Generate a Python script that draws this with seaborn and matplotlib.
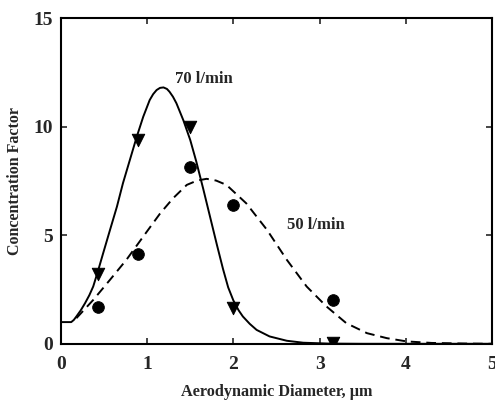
import matplotlib
matplotlib.use("Agg")
import matplotlib.pyplot as plt
import seaborn as sns

# measured points
tri_x = [0.43, 0.89, 1.50, 2.00, 3.15]
tri_y = [3.2, 9.4, 10.0, 1.65, 0.05]
circ_x = [0.43, 0.89, 1.50, 2.00, 3.15]
circ_y = [1.7, 4.15, 8.15, 6.4, 2.0]

# fitted curve, 70 l/min
c70_x = [0.0, 0.12, 0.15, 0.18, 0.23, 0.28, 0.33, 0.375, 0.43, 0.49, 0.57,
         0.65, 0.72, 0.80, 0.88, 0.955, 1.03, 1.07, 1.11, 1.15, 1.19, 1.23,
         1.26, 1.30, 1.34, 1.42, 1.50, 1.57, 1.65, 1.73, 1.81, 1.88, 1.94,
         2.00, 2.06, 2.11, 2.19, 2.27, 2.42, 2.62, 2.81, 3.1, 3.5, 4.0, 5.0]
c70_y = [1.0, 1.0, 1.1, 1.26, 1.54, 1.87, 2.24, 2.64, 3.35, 4.17, 5.25,
         6.32, 7.4, 8.47, 9.54, 10.46, 11.23, 11.5, 11.69, 11.79, 11.81, 11.74,
         11.61, 11.38, 11.08, 10.3, 9.39, 8.4, 7.15, 5.85, 4.55, 3.45, 2.6,
         2.0, 1.55, 1.26, 0.92, 0.64, 0.34, 0.14, 0.05, 0.01, 0.0, 0.0, 0.0]

# fitted curve, 50 l/min
c50_x = [0.18, 0.375, 0.57, 0.76, 0.955, 1.15, 1.30, 1.46, 1.58, 1.69, 1.80,
         1.92, 2.15, 2.39, 2.62, 2.85, 3.08, 3.31, 3.55, 3.78, 4.01, 4.3,
         4.7, 5.0]
c50_y = [1.18, 2.02, 2.95, 3.87, 4.94, 6.0, 6.7, 7.32, 7.52, 7.6, 7.52,
         7.32, 6.47, 5.25, 3.87, 2.64, 1.72, 0.95, 0.49, 0.26, 0.11, 0.04,
         0.01, 0.0]

sns.set_style("ticks")
plt.rcParams['font.family'] = ['Liberation Serif', 'DejaVu Serif']
plt.rcParams['font.weight'] = 'bold'

fig = plt.figure(figsize=(4.95, 4.04), dpi=100)
ax = fig.add_axes([0.123, 0.149, 0.871, 0.806])

sns.lineplot(x=c70_x, y=c70_y, ax=ax, color="black", lw=1.4, sort=False)
sns.lineplot(x=c50_x, y=c50_y, ax=ax, color="black", lw=1.4, sort=False,
             linestyle=(0, (5, 3)))
sns.scatterplot(x=tri_x, y=tri_y, ax=ax, marker="v", s=80, color="black",
                edgecolor="black", zorder=3)
sns.scatterplot(x=circ_x, y=circ_y, ax=ax, marker="o", s=70, color="black",
                edgecolor="black", zorder=3)

ax.set_xlim(0, 5)
ax.set_ylim(0, 15)
ax.set_xticks([0, 1, 2, 3, 4, 5])
ax.set_yticks([0, 5, 10, 15])
ax.tick_params(direction="in", top=True, right=True, length=4, width=1.2,
               labelsize=14)
ax.tick_params(axis="x", pad=9)
ax.tick_params(axis="y", pad=6)
for lab in ax.get_xticklabels() + ax.get_yticklabels():
    lab.set_fontweight("bold")
for sp in ax.spines.values():
    sp.set_linewidth(1.5)
    sp.set_color("black")

ax.set_xlabel("Aerodynamic Diameter, \u03bcm", fontsize=11.7, fontweight="bold",
              labelpad=8)
ax.set_ylabel("Concentration Factor", fontsize=11.5, fontweight="bold",
              labelpad=7)

ax.text(1.66, 12.2, "70 l/min", fontsize=12, fontweight="bold",
        ha="center", va="center")
ax.text(2.96, 5.45, "50 l/min", fontsize=12, fontweight="bold",
        ha="center", va="center")

fig.savefig("out.png", dpi=100)
